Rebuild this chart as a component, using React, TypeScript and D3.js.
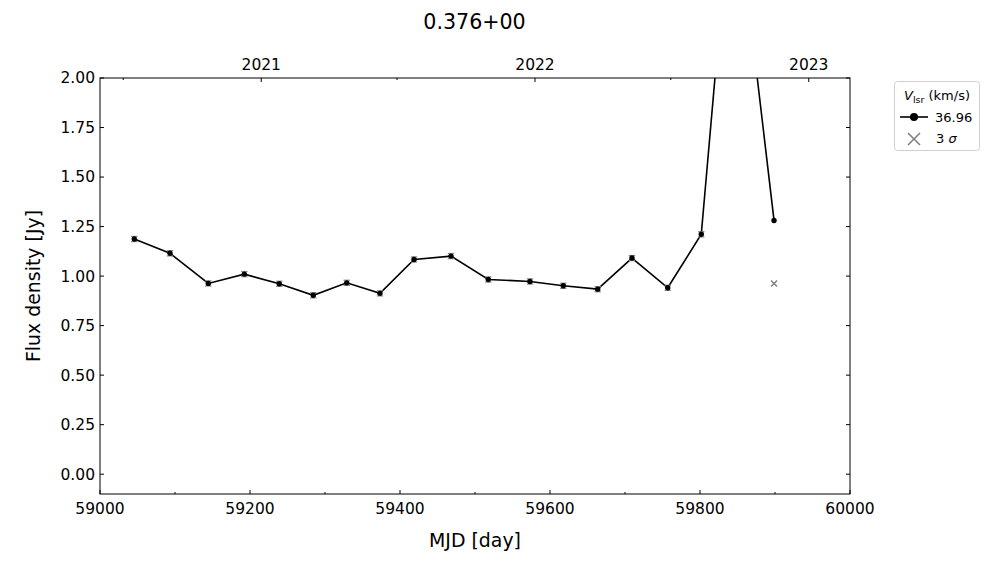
import React from "react";
import * as d3 from "d3";

const mjd = [59045.7, 59093.3, 59144.4, 59192.4, 59239, 59284.4, 59329, 59373.3, 59418.7, 59468, 59517.7, 59573.3, 59617.7, 59663.6, 59709.3, 59757, 59801.7, 59844, 59898.7];
const flux = [1.187, 1.115, 0.963, 1.01, 0.961, 0.903, 0.966, 0.913, 1.084, 1.101, 0.983, 0.973, 0.951, 0.934, 1.091, 0.941, 1.211, 3.04, 1.281];
const hasErrBar = [true, true, true, true, true, true, true, true, true, true, true, true, true, true, true, true, true, true, false];
const sigmaMjd = [59898.7];
const sigmaFlux = [0.963];
const xTicks = [59000, 59200, 59400, 59600, 59800, 60000];
const xMinorTicks = [59100, 59300, 59500, 59700, 59900];
const yTicks = [0, 0.25, 0.5, 0.75, 1.0, 1.25, 1.5, 1.75, 2.0];
const yearTicks = [59215, 59580, 59945];
const yearLabels = ["2021", "2022", "2023"];
const yearMinorTicks = [59031, 59396, 59761];
const title = "0.376+00";
const vlsr = "36.96";

const W = 1000, H = 562;
const L = 100, R = 850, T = 78, B = 494;
const FONT = "DejaVu Sans, sans-serif";

export default function App() {
  const x = d3.scaleLinear().domain([59000, 60000]).range([L, R]);
  const y = d3.scaleLinear().domain([-0.1, 2.0]).range([B, T]);
  const line = d3.line<number>().x((d, i) => x(mjd[i])).y((d) => y(d));
  const pathD = line(flux) || "";
  const tickFs = 15.5;

  return (
    <div>
      <style>{`body{margin:0}`}</style>
      <svg width={W} height={H} style={{ display: "block", fontFamily: FONT }}>
        <rect width={W} height={H} fill="#fff" />
        <defs>
          <clipPath id="plotclip">
            <rect x={L} y={T} width={R - L} height={B - T} />
          </clipPath>
        </defs>
        <text x={474.5} y={28.5} textAnchor="middle" fontSize={20.6} fill="#000">{title}</text>

        <g clipPath="url(#plotclip)">
          <path d={pathD} fill="none" stroke="#000" strokeWidth={1.6} />
          {flux.map((f, i) => (
            <g key={i}>
              {hasErrBar[i] && (
                <g stroke="#888" strokeWidth={1.2}>
                  <line x1={x(mjd[i]) - 3.2} x2={x(mjd[i]) + 3.2} y1={y(f) - 2.6} y2={y(f) - 2.6} />
                  <line x1={x(mjd[i]) - 3.2} x2={x(mjd[i]) + 3.2} y1={y(f) + 2.6} y2={y(f) + 2.6} />
                </g>
              )}
              <circle cx={x(mjd[i])} cy={y(f)} r={2.7} fill="#000" />
            </g>
          ))}
          {sigmaMjd.map((m, i) => {
            const cx = x(m), cy = y(sigmaFlux[i]), s = 3;
            return (
              <g key={"s" + i} stroke="#808080" strokeWidth={1.5}>
                <line x1={cx - s} y1={cy - s} x2={cx + s} y2={cy + s} />
                <line x1={cx - s} y1={cy + s} x2={cx + s} y2={cy - s} />
              </g>
            );
          })}
        </g>

        {/* frame */}
        <rect x={L} y={T} width={R - L} height={B - T} fill="none" stroke="#000" strokeWidth={1} />

        {/* bottom ticks */}
        {xTicks.map((t) => (
          <g key={"xt" + t}>
            <line x1={x(t)} x2={x(t)} y1={B} y2={B - 4} stroke="#000" />
            <text x={x(t)} y={514} textAnchor="middle" fontSize={tickFs}>{t}</text>
          </g>
        ))}
        {xMinorTicks.map((t) => (
          <line key={"xm" + t} x1={x(t)} x2={x(t)} y1={B} y2={B - 2} stroke="#000" />
        ))}

        {/* top year ticks */}
        {yearTicks.map((t, i) => (
          <g key={"yr" + t}>
            <line x1={x(t)} x2={x(t)} y1={T} y2={T + 4} stroke="#000" />
            <text x={x(t)} y={70} textAnchor="middle" fontSize={tickFs}>{yearLabels[i]}</text>
          </g>
        ))}
        {yearMinorTicks.map((t) => (
          <line key={"ym" + t} x1={x(t)} x2={x(t)} y1={T} y2={T + 2} stroke="#000" />
        ))}

        {/* y ticks */}
        {yTicks.map((t) => (
          <g key={"yt" + t}>
            <line x1={L} x2={L + 4} y1={y(t)} y2={y(t)} stroke="#000" />
            <line x1={R} x2={R - 4} y1={y(t)} y2={y(t)} stroke="#000" />
            <text x={95} y={y(t)} dy="0.35em" textAnchor="end" fontSize={tickFs}>{t.toFixed(2)}</text>
          </g>
        ))}

        {/* axis labels */}
        <text x={475} y={547} textAnchor="middle" fontSize={18.9}>MJD [day]</text>
        <text transform={`translate(40,${(T + B) / 2}) rotate(-90)`} textAnchor="middle" fontSize={18.9}>Flux density [Jy]</text>

        {/* legend */}
        <g>
          <rect x={894.5} y={81.5} width={85} height={69} rx={3} fill="#fff" stroke="#d0d0d0" strokeWidth={1} />
          <text x={937} y={100} textAnchor="middle" fontSize={13}>
            <tspan fontStyle="italic">V</tspan>
            <tspan fontSize={9.5} dy={3}>lsr</tspan>
            <tspan dy={-3}> (km/s)</tspan>
          </text>
          <line x1={900} x2={928} y1={117} y2={117} stroke="#000" strokeWidth={1.6} />
          <circle cx={914} cy={117} r={4} fill="#000" />
          <text x={935} y={121.5} fontSize={13}>{vlsr}</text>
          <g stroke="#808080" strokeWidth={1.6}>
            <line x1={908} y1={133} x2={920} y2={145} />
            <line x1={908} y1={145} x2={920} y2={133} />
          </g>
          <text x={936} y={143} fontSize={13}>
            3 <tspan fontStyle="italic">σ</tspan>
          </text>
        </g>
      </svg>
    </div>
  );
}
